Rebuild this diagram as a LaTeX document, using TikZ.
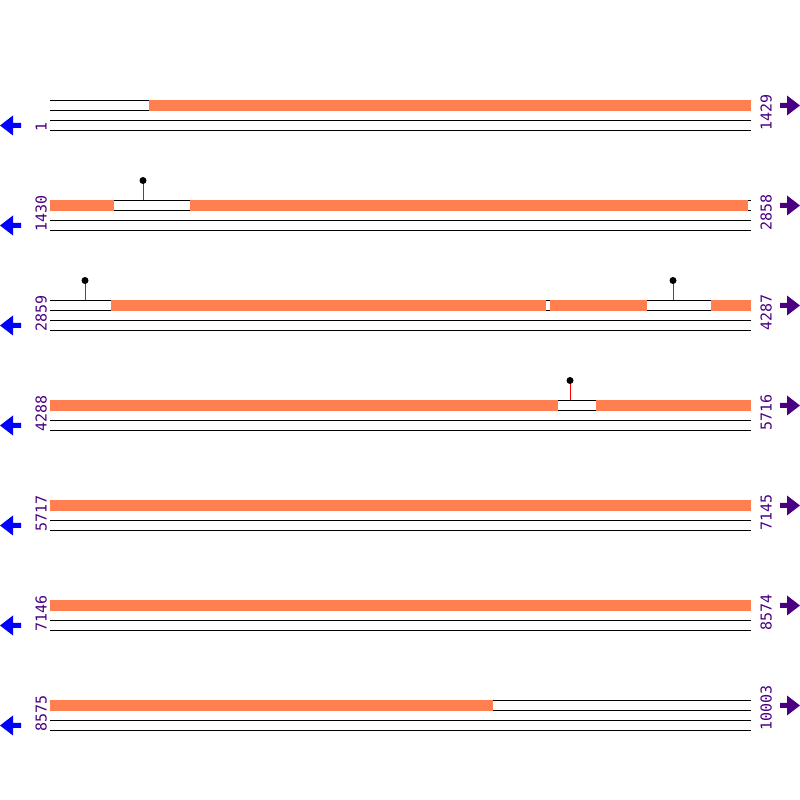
\documentclass[tikz,border=0pt]{standalone}
\usepackage{fontspec}
\newfontfamily\labelfont{DejaVu Sans Mono}
\definecolor{seg}{RGB}{255,127,80}
\definecolor{fwd}{RGB}{75,0,130}
\definecolor{rev}{RGB}{0,0,255}
\tikzset{
  trackline/.style={black, line width=1pt},
  segfill/.style={fill=seg, draw=none},
  stick/.style={red, line width=1pt},
  knob/.style={fill=black, draw=none},
  poslabel/.style={text=fwd, font=\labelfont\fontsize{15}{16}\selectfont, inner sep=0pt, rotate=90, anchor=base west},
  revarrow/.style={fill=rev, draw=none},
  fwdarrow/.style={fill=fwd, draw=none}
}
\begin{document}
\begin{tikzpicture}[x=1pt,y=1pt]
\useasboundingbox (0,0) rectangle (800,800);
\fill[white] (0,0) rectangle (800,800);
% tracks
\foreach \k/\lft/\rgt in {1/1/1429,2/1430/2858,3/2859/4287,4/4288/5716,5/5717/7145,6/7146/8574,7/8575/10003}{
  \pgfmathsetmacro{\Y}{799.5-100*\k}
  \draw[trackline] (50,\Y) -- (751,\Y);
  \draw[trackline] (50,\Y-10) -- (751,\Y-10);
  \draw[trackline] (50,\Y-20) -- (751,\Y-20);
  \draw[trackline] (50,\Y-30) -- (751,\Y-30);
  \node[poslabel] (l\k) at (46.5,\Y-31.5) {\lft};
  \node[poslabel] (r\k) at (771.5,\Y-30.5) {\rgt};
  \fill[revarrow] (0,\Y-25) -- (13,\Y-15) -- (13,\Y-22.5) -- (21,\Y-22.5) -- (21,\Y-27.5) -- (13,\Y-27.5) -- (13,\Y-35) -- cycle;
  \fill[fwdarrow] (800,\Y-5) -- (787,\Y+5) -- (787,\Y-2.5) -- (780,\Y-2.5) -- (780,\Y-7.5) -- (787,\Y-7.5) -- (787,\Y-15) -- cycle;
}
% orange segments
\foreach \k/\a/\b in {1/149/751, 2/50/114, 2/190/748, 3/111/546, 3/550/647, 3/711/751, 4/50/558, 4/596/751, 5/50/751, 6/50/751, 7/50/493}{
  \pgfmathsetmacro{\Y}{799.5-100*\k}
  \fill[segfill] (\a,\Y-10.5) rectangle (\b,\Y+0.5);
}
% lollipops
\foreach \k/\x in {2/143, 3/85, 3/673, 4/570}{
  \pgfmathsetmacro{\Y}{799.5-100*\k}
  \draw[stick] (\x,\Y) -- (\x,\Y+17);
  \fill[knob] (\x,\Y+20) circle (3.5);
}
\end{tikzpicture}
\end{document}
